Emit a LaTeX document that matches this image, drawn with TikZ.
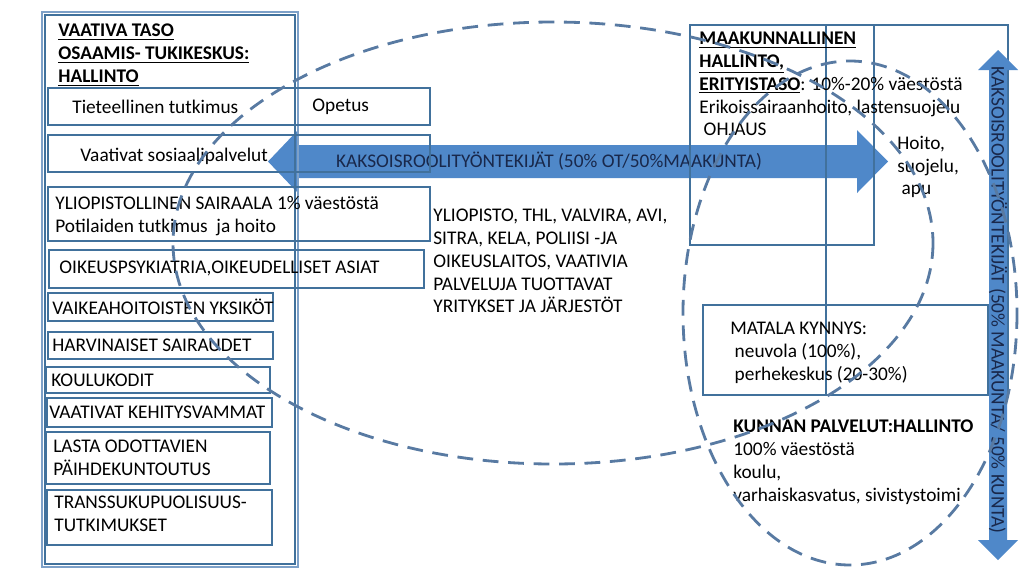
\documentclass[tikz,border=0pt]{standalone}
\usepackage{fontspec}
\setmainfont{Carlito}
\definecolor{boxline}{RGB}{65,113,156}
\definecolor{boxlight}{RGB}{125,160,200}
\definecolor{arrowfill}{RGB}{79,136,201}
\definecolor{arrowtext}{RGB}{25,40,75}
\definecolor{dashline}{RGB}{88,122,162}
\begin{document}
\begin{tikzpicture}[x=0.02cm,y=-0.02cm,
    box/.style={draw=boxline,line width=1.6pt},
    txt/.style={anchor=west,inner sep=0pt,align=left,font=\fontsize{11}{13}\selectfont},
    bigarrow/.style={fill=arrowfill},
    arrowlabel/.style={inner sep=0pt,text=arrowtext,font=\fontsize{11}{13}\selectfont},
    ring/.style={draw=dashline,line width=1.6pt,dash pattern=on 9pt off 5.5pt}]
  \useasboundingbox (0,0) rectangle (1024,576);

  % horizontal double arrow
  \fill[bigarrow] (268,161.5) -- (298,130) -- (298,145) -- (857,145) -- (857,130)
    -- (888,161.5) -- (857,193) -- (857,178) -- (298,178) -- (298,193) -- cycle;
  \node[arrowlabel] (otlabel) at (549,161.5) {KAKSOISROOLITYÖNTEKIJÄT (50\% OT/50\%MAAKUNTA)};

  % vaativa taso
  \draw[draw=boxlight,line width=1.2pt] (42,12) rectangle (298,567);
  \draw[box,line width=1.2pt] (45,15) rectangle (295,564);
  \node[txt] (vaativa) at (58,55) {\textbf{\underline{VAATIVA TASO}}\\\textbf{\underline{OSAAMIS- TUKIKESKUS:}}\\\textbf{\underline{HALLINTO}}};

  \draw[box] (48,88) rectangle (430,125);
  \node[txt] (tutkimus) at (72,107) {Tieteellinen tutkimus};
  \node[txt] (opetus) at (312,107) {Opetus};
  \draw[box] (48,135) rectangle (430,172);
  \node[txt] (sospalv) at (80,156) {Vaativat sosiaalipalvelut};
  \draw[box] (48,187) rectangle (430,241);
  \node[txt] (ylsairaala) at (55,216) {YLIOPISTOLLINEN SAIRAALA 1\% väestöstä\\Potilaiden tutkimus\ \ ja hoito};
  \draw[box] (49,250) rectangle (424,288);
  \node[txt] (oikeus) at (59,268) {OIKEUSPSYKIATRIA,OIKEUDELLISET ASIAT};
  \draw[box] (48,293) rectangle (273,321);
  \node[txt] (vaikea) at (52,307) {VAIKEAHOITOISTEN YKSIKÖT};
  \draw[box] (48,332) rectangle (273,359);
  \node[txt] (harvinaiset) at (52,345) {HARVINAISET SAIRAUDET};
  \draw[box] (46,367) rectangle (270,393);
  \node[txt] (koulukodit) at (51,380) {KOULUKODIT};
  \draw[box] (47,398) rectangle (272,427);
  \node[txt] (kehitys) at (49,412) {VAATIVAT KEHITYSVAMMAT};
  \draw[box] (46,432) rectangle (270,484);
  \node[txt] (paihde) at (53,458) {LASTA ODOTTAVIEN\\PÄIHDEKUNTOUTUS};
  \draw[box] (47,490) rectangle (272,545);
  \node[txt] (trans) at (54,514) {TRANSSUKUPUOLISUUS-\\TUTKIMUKSET};

  \node[txt] (toimijat) at (433,261) {YLIOPISTO, THL, VALVIRA, AVI,\\SITRA, KELA, POLIISI -JA\\OIKEUSLAITOS, VAATIVIA\\PALVELUJA TUOTTAVAT\\YRITYKSET JA JÄRJESTÖT};

  % maakunta ja kunta
  \draw[box] (690,25) -- (1008,25) -- (1008,395);
  \draw[box] (690,25) rectangle (874,245);
  \draw[box] (826,25) -- (826,395);
  \draw[box] (703,305) rectangle (988,395);
  \node[txt] (maakunta) at (699,84) {\textbf{\underline{MAAKUNNALLINEN}}\\\textbf{\underline{HALLINTO,}}\\\textbf{\underline{ERITYISTASO}}: 10\%-20\% väestöstä\\Erikoissairaanhoito, lastensuojelu\\\ OHJAUS};
  \node[txt] (hoito) at (897,167) {Hoito,\\suojelu,\\\ apu};
  \node[txt] (matala) at (730,353) {MATALA KYNNYS:\\\ neuvola (100\%),\\\ perhekeskus (20-30\%)};
  \node[txt] (kunta) at (733,462) {\textbf{KUNNAN PALVELUT:HALLINTO}\\100\% väestöstä\\koulu,\\varhaiskasvatus, sivistystoimi};

  % vertical double arrow
  \fill[bigarrow] (998,50) -- (1018,70) -- (1007,70) -- (1007,540) -- (1018,540)
    -- (998,560) -- (978,540) -- (989,540) -- (989,70) -- (978,70) -- cycle;
  \node[arrowlabel,rotate=-90] (kuntalabel) at (998,300) {KAKSOISROOLITYÖNTEKIJÄT (50\% MAAKUNTA/ 50\% KUNTA)};

  % dashed rings
  \draw[ring] (553,243) ellipse [x radius=380, y radius=221];
  \draw[ring] (850,313) ellipse [x radius=167, y radius=252];
\end{tikzpicture}
\end{document}
